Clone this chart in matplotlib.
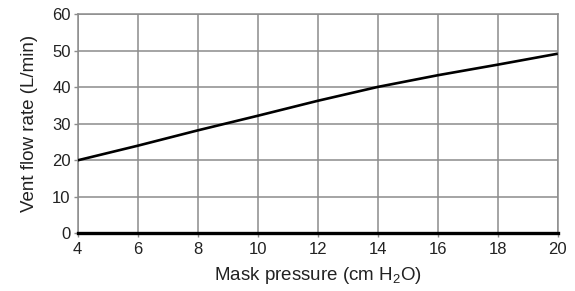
import numpy as np
from matplotlib import pyplot as plt

plt.rcParams['font.family'] = ['Liberation Sans', 'DejaVu Sans']
plt.rcParams['mathtext.fontset'] = 'custom'
plt.rcParams['mathtext.rm'] = 'Liberation Sans'
plt.rcParams['mathtext.it'] = 'Liberation Sans:italic'

# mask pressure (cm H2O) vs vent flow (L/min)
pressure = [4, 6, 8, 10, 12, 14, 16, 18, 20]
flow = [20.0, 24.0, 28.2, 32.2, 36.3, 40.1, 43.3, 46.2, 49.2]

xticks = [4, 6, 8, 10, 12, 14, 16, 18, 20]
yticks = [0, 10, 20, 30, 40, 50, 60]

fig = plt.figure(figsize=(5.75, 2.91), dpi=100)
ax = fig.add_axes([0.135, 0.198, 0.835, 0.753])

ax.plot(pressure, flow, c='black', lw=1.9, solid_capstyle='butt', zorder=3)

ax.set_xlim(4, 20)
ax.set_ylim(0, 60)
ax.set_xticks(xticks)
ax.set_yticks(yticks)
ax.grid(True, color='#8c8c8c', lw=1.1)
ax.set_axisbelow(True)

for s in ['top', 'right', 'left']:
    ax.spines[s].set_color('#8c8c8c')
    ax.spines[s].set_linewidth(1.1)
ax.spines['bottom'].set_color('black')
ax.spines['bottom'].set_linewidth(2.4)
ax.spines['bottom'].set_zorder(4)

ax.tick_params(axis='both', labelsize=12, length=3, width=1, color='#8c8c8c',
               labelcolor='#222222')
ax.tick_params(axis='x', pad=3)
ax.tick_params(axis='y', pad=2)

ax.set_xlabel('Mask pressure (cm H$_2$O)', fontsize=13.5, color='#222222', labelpad=6)
ax.set_ylabel('Vent flow rate (L/min)', fontsize=13.5, color='#222222', labelpad=10)

fig.savefig('out.png', dpi=100)
